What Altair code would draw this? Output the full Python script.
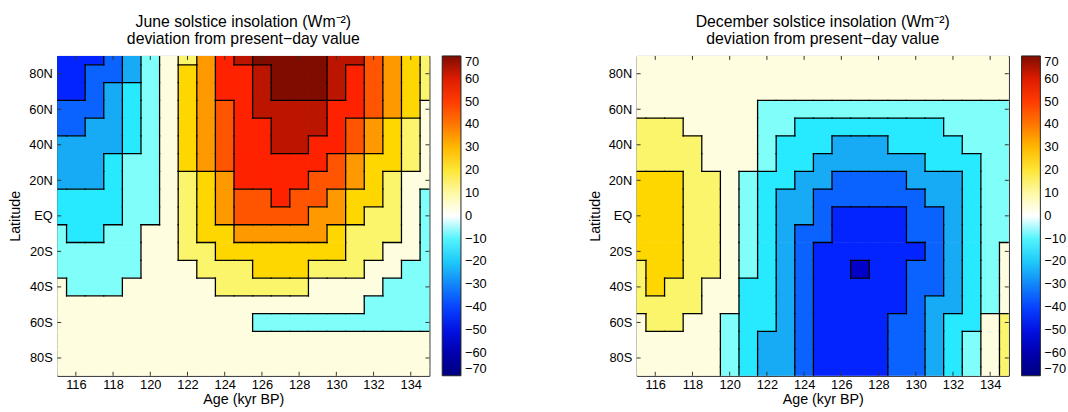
import math
import altair as alt
import pandas as pd

# ---------------- data ----------------
AGES = [115, 116, 117, 118, 119, 120, 121, 122, 123, 124, 125,
        126, 127, 128, 129, 130, 131, 132, 133, 134, 135]          # kyr BP
LATS = [90, 80, 70, 60, 50, 40, 30, 20, 10, 0,
        -10, -20, -30, -40, -50, -60, -70, -80, -90]               # degrees

# June solstice insolation deviation (W m-2), one row per latitude
JUNE = [
    [-46, -44, -41, -33, -22, -9, 4, 18, 35, 51, 62, 71, 73, 74, 73, 68, 60, 48, 38, 26, 11],
    [-45, -43, -39, -32, -21, -8, 6, 20, 37, 51, 59, 68, 72, 73, 72, 65, 57, 45, 35, 23, 15],
    [-41.5, -41, -36, -29, -19, -5, 7, 21, 38, 52, 58, 66, 71, 72, 71, 63, 54, 44, 33, 23, 13],
    [-37, -36, -33, -26, -16, -4, 7, 21, 34, 48, 55, 61, 66, 67, 64, 56, 50, 41, 30, 22, 8],
    [-30.5, -32, -29, -23, -13, -4, 8, 21, 32, 47, 54, 59, 62, 63, 60.5, 54, 45, 35, 26, 15, 8],
    [-27, -29, -26, -21.5, -11, -3, 8.5, 20.5, 31, 40.5, 53, 57, 61, 60.5, 56, 51, 43, 33, 24, 14, 6],
    [-25, -26, -24, -18, -9.5, -2, 9, 20.5, 30.5, 40.5, 51.5, 55, 58, 58, 54, 46, 37, 28, 21, 14, 5],
    [-20.5, -23, -21, -15, -8, -1.5, 9, 19.5, 29, 38.5, 51, 53, 54, 53, 48.5, 43, 34, 24, 16, 9, 3],
    [-16, -19, -17, -13, -8, -1, 9, 19, 28, 36.5, 46, 49.5, 50.5, 49.5, 45, 38, 29, 21, 14, 9.5, -0.5],
    [-13, -15, -14, -11, -6, -0.3, 9, 18, 26, 33, 40.5, 44, 46, 44, 39, 32, 24, 18, 12, 5, -1],
    [-9.5, -11, -11, -9, -3, 1.5, 7.5, 15, 22, 28, 33, 36, 37, 36, 32, 25.5, 19, 14, 10, 4, -2],
    [-7, -8, -8, -6, -3, 2, 6, 11, 17, 22, 26, 28, 29, 28, 25, 20, 15.5, 11.5, 5, 1.5, -3],
    [-3, -5, -5, -3, -1, 3, 6, 9, 12, 16, 18.5, 20.5, 21, 20.5, 18, 14, 10, 6, 2, -1, -4],
    [1, -0.5, -1, -0.5, 1.5, 4, 5, 7, 8, 10, 11, 12, 12, 11, 9.9, 8, 5, 3, -0.5, -4, -6],
    [2, 2, 3, 3, 4, 4, 5, 5, 6, 6, 6, 6, 5, 4, 3, 1, 0.3, -2, -4, -6, -7],
    [1, 1, 1, 1, 1, 1, 1, 1, 1, 1, 0.5, -0.5, -1, -1.5, -2, -3, -3, -4, -5, -6, -7],
    [0, 0, 0, 0, 0, 0, 0, 0, 0, 0, 0, 0, 0, 0, 0, 0, 0, 0, 0, 0, 0],
    [0, 0, 0, 0, 0, 0, 0, 0, 0, 0, 0, 0, 0, 0, 0, 0, 0, 0, 0, 0, 0],
    [0, 0, 0, 0, 0, 0, 0, 0, 0, 0, 0, 0, 0, 0, 0, 0, 0, 0, 0, 0, 0],
]

# December solstice insolation deviation (W m-2)
DEC = [
    [0, 0, 0, 0, 0, 0, 0, 0, 0, 0, 0, 0, 0, 0, 0, 0, 0, 0, 0, 0, 0],
    [0, 0, 0, 0, 0, 0, 0, 0, 0, 0, 0, 0, 0, 0, 0, 0, 0, 0, 0, 0, 0],
    [0, 0, 0, 0, 0, 0, 0, 0, 0, 0, 0, 0, 0, 0, 0, 0, 0, 0, 0, 0, 0],
    [6, 5, 4, 3, 2.5, 2, 1, -1.5, -4, -6, -7, -8, -8, -8, -8, -7, -6, -5, -4, -3, -2],
    [12, 11.5, 10, 7, 4, 2, 1, -3, -7, -10.5, -12, -13, -14, -14, -13, -12, -10.2, -8, -6, -4, -2],
    [17, 17, 15, 11, 6, 3, 0.5, -6, -11, -15, -19, -20.2, -21, -20.5, -19.5, -17, -14, -12, -9, -6, -3],
    [19, 19.5, 18, 14, 9, 4, 1, -9.5, -15, -19, -24, -28, -29.5, -29, -27, -23, -20, -16, -11.5, -8, -4],
    [22, 23, 21, 16, 10.5, 5, -0.3, -11.5, -17, -23, -28, -33, -36, -35, -32, -28, -24, -20.3, -14.5, -9.7, -6],
    [24, 25, 23, 18.5, 12, 5, -0.5, -13, -20.2, -27, -33, -38, -39.8, -39.5, -37, -33, -28, -23, -16, -9.7, -5],
    [25, 26, 24, 19.5, 13, 5, -1.5, -15, -22, -29.5, -37, -43, -46, -45, -41, -36, -31, -25, -17, -9.7, -4],
    [25, 26, 24, 19.5, 13, 4.5, -6, -15.5, -23.5, -32, -39, -45, -48, -47.5, -44, -39, -32, -25, -17, -9, -3],
    [24, 25, 23, 18.5, 12, 4, -8, -16.5, -25, -33, -41, -46.5, -49.5, -49, -45.5, -40.5, -33, -25.5, -17, -8.5, 0],
    [19, 21, 21, 16, 10, 3, -10, -17.5, -26, -34, -42, -47, -51, -49.5, -45.5, -40, -33, -25, -16, -7, 1.5],
    [16, 20, 18, 13, 8.5, 2, -11, -18.5, -27, -35, -42, -46.5, -49.5, -48.5, -45, -40, -32, -25, -15, -6, 3],
    [14, 15, 14, 11, 5, 0.2, -12, -19, -27.5, -35.5, -42, -45, -46.5, -46, -43, -37, -29.5, -23, -14, -4, 5],
    [9, 11, 10.5, 8, 3, -3, -12, -19.5, -28.5, -36, -42, -44, -45, -44, -40, -33, -26.5, -20, -11, 3, 10.5],
    [7, 8, 8, 6, 1.5, -7, -13, -20.5, -29, -37, -42, -43, -43, -41.5, -37, -32, -25, -15, -3, 8, 12],
    [6, 7, 7, 5, 1, -7, -13, -21, -29.5, -37, -42, -44, -44.5, -42, -38, -32, -23, -12, -1, 9, 14],
    [6, 7, 7, 5, 1, -7, -13, -21, -29.5, -37, -42, -44, -45, -42, -38, -31, -22, -11, -1, 9.5, 15],
]

LEVELS = [70, 60, 50, 40, 30, 20, 10, 0, -10, -20, -30, -40, -50, -60, -70]
X_TICKS = [116, 118, 120, 122, 124, 126, 128, 130, 132, 134]
Y_TICKS = [80, 60, 40, 20, 0, -20, -40, -60, -80]

# colour map (band colours of the filled contours, white at zero)
CMAP_STOPS = [-70, -55, -45, -35, -25, -15, -5, 0, 5, 15, 25, 35, 45, 55, 65, 70]
CMAP_COLORS = ["#00007f", "#0000c6", "#0424ff", "#0a62ff", "#17aaf5", "#27e9ff",
               "#80fffa", "#ffffff", "#fffddf", "#fbf56b", "#ffd700", "#ff9900",
               "#ff5500", "#ff2200", "#bb1500", "#800c00"]

FONT = "Liberation Sans"
W, H = 377, 324
TICK_LEN = 4


def band(v):
    return math.floor(v / 10.0)


def cells_table(grid):
    rows = []
    for i, lat in enumerate(LATS):
        for j, age in enumerate(AGES):
            rows.append({"age": age, "lat": lat, "value": grid[i][j]})
    return pd.DataFrame(rows)


def boundary_table(grid):
    """Edges between neighbouring grid cells that fall in different 10-unit bands."""
    da = (AGES[1] - AGES[0]) / 2.0
    dl = (LATS[0] - LATS[1]) / 2.0
    segs = []
    for i, lat in enumerate(LATS):
        for j, age in enumerate(AGES):
            b = band(grid[i][j])
            if j + 1 < len(AGES) and band(grid[i][j + 1]) != b:
                xm = (age + AGES[j + 1]) / 2.0
                segs.append({"x": xm, "x2": xm, "y": lat - dl, "y2": lat + dl})
            if i + 1 < len(LATS) and band(grid[i + 1][j]) != b:
                ym = (lat + LATS[i + 1]) / 2.0
                segs.append({"x": age - da, "x2": age + da, "y": ym, "y2": ym})
    return pd.DataFrame(segs)


def panel(grid, title_lines):
    xscale = alt.Scale(domain=[AGES[0], AGES[-1]], nice=False, zero=False)
    yscale = alt.Scale(domain=[LATS[-1], LATS[0]], nice=False, zero=False)
    xaxis = alt.Axis(values=X_TICKS, format="d", ticks=False, domain=False, grid=False,
                     labelPadding=3, titlePadding=1)
    yaxis = alt.Axis(values=Y_TICKS, ticks=False, domain=False, grid=False,
                     labelPadding=5, titlePadding=6,
                     labelExpr="datum.value == 0 ? 'EQ' : (datum.value > 0 ? datum.value + 'N' : (-datum.value) + 'S')")
    cscale = alt.Scale(type="linear", domain=CMAP_STOPS, range=CMAP_COLORS,
                       clamp=True, interpolate="rgb")
    legend = alt.Legend(type="gradient", title=None, values=LEVELS, format="d",
                        direction="vertical", orient="right", offset=13,
                        gradientLength=H, gradientThickness=19,
                        gradientStrokeColor="#222222", gradientStrokeWidth=1,
                        labelFont=FONT, labelFontSize=13, labelColor="black",
                        labelOverlap=False, labelBaseline="middle", labelOffset=4)

    # half cell sizes, with a hair of overlap so neighbouring cells leave no seams
    da = (AGES[1] - AGES[0]) / 2.0 + 0.02
    dl = (LATS[0] - LATS[1]) / 2.0 + 0.2
    xt = "Age (kyr BP)"
    yt = "Latitude"
    fill = alt.Chart(cells_table(grid)).transform_calculate(
        a0=f"datum.age - {da}", a1=f"datum.age + {da}",
        l0=f"datum.lat - {dl}", l1=f"datum.lat + {dl}",
        band="floor(datum.value / 10) * 10 + 5",
    ).mark_rect(clip=True).encode(
        x=alt.X("a0:Q", scale=xscale, axis=xaxis, title=xt),
        x2="a1:Q",
        y=alt.Y("l0:Q", scale=yscale, axis=yaxis, title=yt),
        y2="l1:Q",
        color=alt.Color("band:Q", scale=cscale, legend=legend),
    )
    lines = alt.Chart(boundary_table(grid)).mark_rule(
        clip=True, color="black", strokeWidth=1.3, strokeCap="square"
    ).encode(
        x=alt.X("x:Q", scale=xscale, axis=xaxis, title=xt),
        x2="x2:Q",
        y=alt.Y("y:Q", scale=yscale, axis=yaxis, title=yt),
        y2="y2:Q",
    )
    # inward tick marks on all four sides (MATLAB style box)
    xt_df = pd.DataFrame({"t": X_TICKS})
    yt_df = pd.DataFrame({"t": Y_TICKS})
    tick_style = dict(color="#333333", strokeWidth=1)
    tb = alt.Chart(xt_df).mark_rule(**tick_style).encode(
        x=alt.X("t:Q", scale=xscale, axis=xaxis, title=xt),
        y=alt.value(H), y2=alt.value(H - TICK_LEN))
    tt = alt.Chart(xt_df).mark_rule(**tick_style).encode(
        x=alt.X("t:Q", scale=xscale, axis=xaxis, title=xt),
        y=alt.value(0), y2=alt.value(TICK_LEN))
    tl = alt.Chart(yt_df).mark_rule(**tick_style).encode(
        y=alt.Y("t:Q", scale=yscale, axis=yaxis, title=yt),
        x=alt.value(0), x2=alt.value(TICK_LEN))
    tr = alt.Chart(yt_df).mark_rule(**tick_style).encode(
        y=alt.Y("t:Q", scale=yscale, axis=yaxis, title=yt),
        x=alt.value(W), x2=alt.value(W - TICK_LEN))
    return alt.layer(fill, lines, tb, tt, tl, tr).properties(
        width=W, height=H,
        title=alt.TitleParams(text=title_lines, font=FONT, fontSize=16,
                              fontWeight="normal", color="black", anchor="middle",
                              frame="group", lineHeight=16.5, offset=9),
    )


left = panel(JUNE, ["June solstice insolation (Wm\u207b\u00b2)",
                    "deviation from present\u2212day value"])
right = panel(DEC, ["December solstice insolation (Wm\u207b\u00b2)",
                    "deviation from present\u2212day value"])

chart = alt.hconcat(left, right, spacing=99).resolve_scale(
    color="independent"
).configure_view(
    stroke="black", strokeWidth=1
).configure_axis(
    labelFont=FONT, labelFontSize=13, labelColor="black",
    titleFont=FONT, titleFontSize=14.5, titleFontWeight="normal", titleColor="black",
).properties(
    padding={"left": 7, "top": 11, "right": 0, "bottom": 0},
    background="white",
)

chart.save("out.html", embed_options={"renderer": "svg", "actions": False})
